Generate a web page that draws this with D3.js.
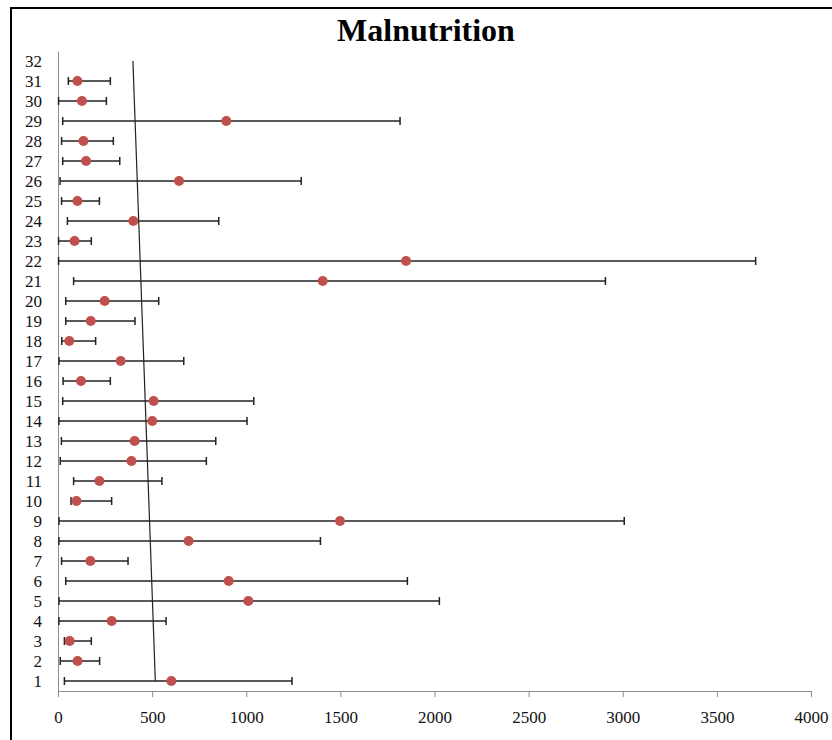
<!DOCTYPE html>
<html>
<head>
<meta charset="utf-8">
<script src="https://cdn.jsdelivr.net/npm/d3@7"></script>
<style>
  body { margin: 0; background: #fff; }
  svg { display: block; }
  .tick text { font-family: "Liberation Serif", "Times New Roman", serif; }
</style>
</head>
<body>
<div id="chart"></div>
<script>
// study number, estimate and interval
let studies = d3.range(1, 32);
let estimate = [602, 104, 62, 285, 1011, 907, 172, 694, 1498, 98,
                220, 390, 407, 501, 508, 122, 333, 60, 174, 248,
                1406, 1849, 88, 400, 103, 643, 149, 135, 894, 127, 103];
let lower = [34, 12, 34, 5, 5, 41, 19, 5, 5, 69,
             83, 12, 18, 5, 25, 27, 5, 20, 41, 41,
             83, 3, 3, 50, 19, 11, 25, 19, 25, 3, 55];
let upper = [1243, 221, 177, 574, 2026, 1856, 372, 1394, 3008, 285,
             552, 788, 838, 1004, 1040, 278, 668, 200, 409, 535,
             2908, 3706, 177, 854, 220, 1292, 328, 294, 1817, 257, 278];
// the slanted reference line
let lineX = [517, 398];
let lineY = [1, 32];
let xTicks = [0, 500, 1000, 1500, 2000, 2500, 3000, 3500, 4000];
let yTicks = d3.range(1, 33);

let width = 832;
let height = 740;
let margin = {left: 58, right: 21, top: 51, bottom: 49};

let svg = d3.select('#chart').append('svg')
    .attr('width', width)
    .attr('height', height);

// outer frame
svg.append('rect')
    .attr('x', 11).attr('y', 8)
    .attr('width', 840).attr('height', 760)
    .attr('fill', 'none')
    .attr('stroke', '#000')
    .attr('stroke-width', 2);

svg.append('text')
    .attr('x', 426)
    .attr('y', 41)
    .attr('text-anchor', 'middle')
    .style('font-family', '"Liberation Serif", "Times New Roman", serif')
    .style('font-weight', 'bold')
    .style('font-size', '32px')
    .text('Malnutrition');

let x = d3.scaleLinear()
    .domain([0, 4000])
    .range([margin.left, width - margin.right]);

let y = d3.scaleLinear()
    .domain([0.5, 32.5])
    .range([height - margin.bottom, margin.top]);

// X axis
let xAxis = svg.append('g')
    .attr('transform', 'translate(0,' + y(0.5) + ')')
    .call(d3.axisBottom(x).tickValues(xTicks).tickFormat(d3.format('d'))
        .tickSize(6).tickSizeOuter(0).tickPadding(14));
xAxis.selectAll('path, line').attr('stroke', '#8c8c8c');
xAxis.selectAll('text').style('font-size', '17px').attr('fill', '#111');

// Y axis, no ticks
let yAxis = svg.append('g')
    .attr('transform', 'translate(' + x(0) + ',0)')
    .call(d3.axisLeft(y).tickValues(yTicks).tickFormat(d3.format('d'))
        .tickSize(0).tickSizeOuter(0).tickPadding(16));
yAxis.select('.domain').attr('stroke', '#8c8c8c');
yAxis.selectAll('text').style('font-size', '17px').attr('fill', '#111');

// slanted line
svg.append('line')
    .attr('x1', x(lineX[0])).attr('y1', y(lineY[0]))
    .attr('x2', x(lineX[1])).attr('y2', y(lineY[1]))
    .attr('stroke', '#222')
    .attr('stroke-width', 1.2);

// error bars
let bars = svg.append('g')
    .attr('stroke', '#222')
    .attr('stroke-width', 1.5);

studies.forEach(function(s, i) {
    let cy = y(s);
    bars.append('line')
        .attr('x1', x(lower[i])).attr('x2', x(upper[i]))
        .attr('y1', cy).attr('y2', cy);
    [lower[i], upper[i]].forEach(function(v) {
        bars.append('line')
            .attr('x1', x(v)).attr('x2', x(v))
            .attr('y1', cy - 4).attr('y2', cy + 4);
    });
});

// points
svg.append('g')
    .selectAll('circle')
    .data(studies)
    .enter().append('circle')
        .attr('cx', function(d, i) { return x(estimate[i]); })
        .attr('cy', function(d) { return y(d); })
        .attr('r', 5)
        .attr('fill', '#c0504d');
</script>
</body>
</html>
